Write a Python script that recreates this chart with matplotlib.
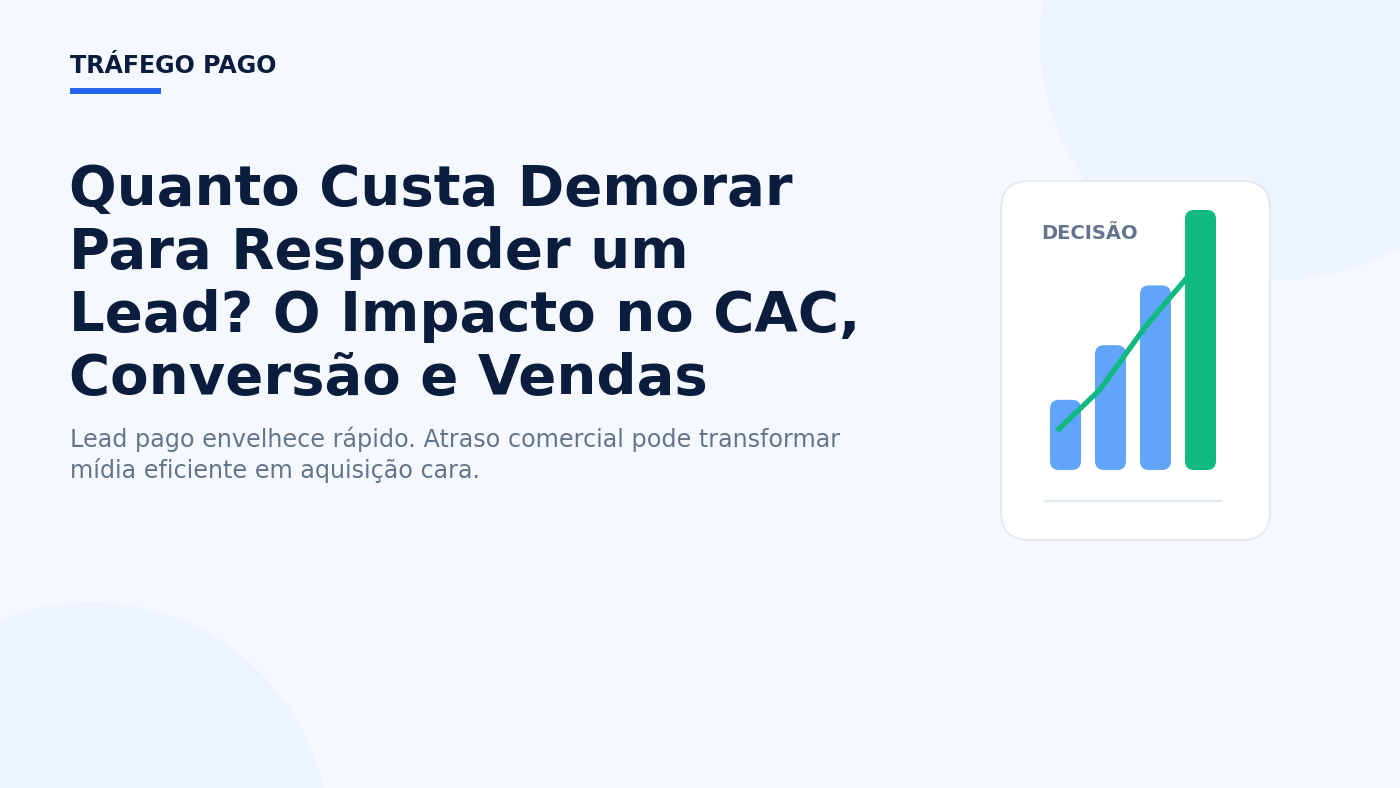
import numpy as np
import matplotlib.pyplot as plt
from matplotlib.patches import FancyBboxPatch, Circle

plt.rcParams['font.family'] = ['DejaVu Sans']

# dados do mini grafico
bar_vals = [2.7, 4.8, 7.1, 10.0]
bar_colors = ['#60a5fa', '#60a5fa', '#60a5fa', '#10b981']
line_pos = [-0.19, 0.77, 1.77, 2.70]
line_vals = [1.5, 3.1, 5.5, 7.4]

kicker = "TRÁFEGO PAGO"
title_lines = ["Quanto Custa Demorar", "Para Responder um",
               "Lead? O Impacto no CAC,", "Conversão e Vendas"]
sub_lines = ["Lead pago envelhece rápido. Atraso comercial pode transformar",
             "mídia eficiente em aquisição cara."]
card_label = "DECISÃO"

W, H = 1400, 788
fig = plt.figure(figsize=(W / 100, H / 100), dpi=100)
fig.patch.set_facecolor('#f5f9ff')

# fundo em coordenadas de pixel
bg = fig.add_axes([0, 0, 1, 1])
bg.set_xlim(0, W)
bg.set_ylim(H, 0)
bg.axis('off')

bg.add_patch(Circle((1280, 40), 240, color='#edf4ff', lw=0, zorder=0))
bg.add_patch(Circle((90, 842), 240, color='#edf4ff', lw=0, zorder=0))

navy = '#0b1d3d'
gray = '#64748b'

bg.text(70, 73, kicker, fontsize=17.1, fontweight='bold', color=navy, va='baseline')
bg.add_patch(plt.Rectangle((70, 88), 91, 6, color='#2563eb', lw=0))

for i, t in enumerate(title_lines):
    bg.text(69, 205 + 63 * i, t, fontsize=40.4, fontweight='bold', color=navy,
            va='baseline')

for i, t in enumerate(sub_lines):
    bg.text(70, 447 + 31 * i, t, fontsize=17.2, color=gray, va='baseline')

# cartao
card = FancyBboxPatch((1001, 181), 269, 359,
                      boxstyle="round,pad=0,rounding_size=28",
                      facecolor='white', edgecolor='#e2e8f0', lw=1.3, zorder=2)
bg.add_patch(card)
bg.plot([1045, 1221], [501, 501], color='#e2e8f0', lw=1.6, zorder=3)
bg.text(1041, 239, card_label, fontsize=14, fontweight='bold', color=gray,
        va='baseline', zorder=3)

# mini grafico de barras
px_x, px_y = 45.0, 26.0
left_px, right_px, top_px, base_px = 1035, 1235, 200, 470
ax = fig.add_axes([left_px / W, (H - base_px) / H,
                   (right_px - left_px) / W, (base_px - top_px) / H])
ax.set_xlim((left_px - 1065.5) / px_x, (right_px - 1065.5) / px_x)
ax.set_ylim(0, (base_px - top_px) / px_y)
ax.axis('off')
ax.patch.set_alpha(0)

x = np.arange(len(bar_vals))
bars = ax.bar(x, bar_vals, width=31 / px_x, color=bar_colors)
r = 9 / px_x
for b, c in zip(bars, bar_colors):
    b.set_visible(False)
    ax.add_patch(FancyBboxPatch((b.get_x(), b.get_y()), b.get_width(), b.get_height(),
                                boxstyle=f"round,pad=0,rounding_size={r}",
                                mutation_aspect=px_x / px_y,
                                facecolor=c, lw=0, zorder=2))

ax.plot(line_pos, line_vals, color='#10b981', lw=3.8, solid_capstyle='butt',
        zorder=3)

fig.savefig('out.png', dpi=100)
